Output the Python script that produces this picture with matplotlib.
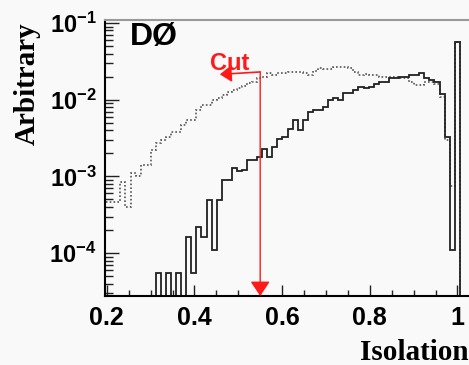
import matplotlib
matplotlib.use("Agg")
import matplotlib.pyplot as plt
import numpy as np

# histogram binning (90 bins on 0-1.04), only the filled range is kept
bin_w = 1.04 / 90
first_bkg_bin = 17
first_sig_bin = 27

# dotted histogram (background-like), bins 17..86
bkg = [4.7e-4, 4.7e-4, 4.7e-4, 8.5e-4, 4.0e-4, 1.1e-3, 1.0e-3, 1.4e-3, 1.4e-3, 2.2e-3,
       2.7e-3, 3.0e-3, 3.3e-3, 3.8e-3, 3.8e-3, 4.7e-3, 5.5e-3, 5.5e-3, 7.3e-3, 8.5e-3,
       8.5e-3, 1.0e-2, 1.04e-2, 1.15e-2, 1.27e-2, 1.34e-2, 1.4e-2, 1.5e-2, 1.64e-2, 1.7e-2,
       1.9e-2, 2.0e-2, 2.2e-2, 2.1e-2, 2.2e-2, 2.25e-2, 2.3e-2, 2.3e-2, 2.3e-2, 2.2e-2,
       2.1e-2, 2.4e-2, 2.57e-2, 2.5e-2, 2.5e-2, 2.7e-2, 2.7e-2, 2.7e-2, 2.6e-2, 2.3e-2,
       2.1e-2, 2.15e-2, 2.1e-2, 2.1e-2, 2.0e-2, 2.0e-2, 2.0e-2, 2.0e-2, 1.9e-2, 1.9e-2,
       1.72e-2, 1.55e-2, 1.55e-2, 1.72e-2, 1.72e-2, 1.6e-2, 1.1e-2, 3.0e-3, 7.4e-4, 5.7e-2]

# solid histogram (signal-like), bins 27..86
sig = [5.5e-5, 0, 5.5e-5, 0, 5.5e-5, 0, 1.64e-4, 5.5e-5, 2.2e-4, 1.64e-4,
       4.9e-4, 1.1e-4, 4.9e-4, 9e-4, 9e-4, 1.29e-3, 1.16e-3, 1.21e-3, 1.64e-3, 1.64e-3,
       1.8e-3, 2.3e-3, 1.8e-3, 2.45e-3, 3.1e-3, 3.3e-3, 4.2e-3, 5.4e-3, 4.0e-3, 5.4e-3,
       7.0e-3, 7.3e-3, 7.3e-3, 8.1e-3, 1.0e-2, 1.04e-2, 1.0e-2, 1.21e-2, 1.21e-2, 1.34e-2,
       1.48e-2, 1.4e-2, 1.48e-2, 1.6e-2, 1.72e-2, 1.72e-2, 1.9e-2, 1.9e-2, 2.0e-2, 2.0e-2,
       2.1e-2, 2.1e-2, 2.2e-2, 1.9e-2, 1.8e-2, 1.72e-2, 1.2e-2, 3.3e-3, 1.1e-4, 5.7e-2]

cut_value = 0.55
cut_label = "Cut"
xticks = [0.2, 0.4, 0.6, 0.8, 1.0]
xticklabels = ["0.2", "0.4", "0.6", "0.8", "1"]
yticks = [1e-4, 1e-3, 1e-2, 1e-1]
yticklabels = [r"$10^{-4}$", r"$10^{-3}$", r"$10^{-2}$", r"$10^{-1}$"]

plt.rcParams["mathtext.fontset"] = "custom"
plt.rcParams["mathtext.rm"] = "Liberation Sans:bold"
plt.rcParams["mathtext.it"] = "Liberation Sans:bold"
plt.rcParams["mathtext.bf"] = "Liberation Sans:bold"

bg = "#f9f9f9"
fig = plt.figure(figsize=(4.69, 3.65), dpi=100, facecolor=bg)
ax = fig.add_axes([105 / 469, 69 / 365, 370 / 469, 276 / 365], facecolor=bg)

bkg_edges = bin_w * np.arange(first_bkg_bin, first_bkg_bin + len(bkg) + 1)
sig_edges = bin_w * np.arange(first_sig_bin, first_sig_bin + len(sig) + 1)
bkg_v = np.where(np.array(bkg) > 0, bkg, 1e-9)
sig_v = np.where(np.array(sig) > 0, sig, 1e-9)

ax.stairs(bkg_v, bkg_edges, baseline=1e-9, color="#555555", lw=1.2, ls=(0, (1, 1.3)))
ax.stairs(sig_v, sig_edges, baseline=1e-9, color="#222222", lw=1.3)

ax.set_yscale("log")
ax.set_xlim(0.196, 1.04)
ax.set_ylim(2.76e-5, 0.1094)

# cut arrow
y_top = 0.023
ax.annotate("", xy=(cut_value, 2.76e-5), xytext=(cut_value, y_top),
            arrowprops=dict(arrowstyle="-|>,head_length=0.45,head_width=0.3",
                            color="#ff1a1a", lw=1.0, shrinkA=0, shrinkB=0,
                            mutation_scale=20))
ax.annotate("", xy=(0.458, y_top * 0.93), xytext=(cut_value, y_top),
            arrowprops=dict(arrowstyle="-|>,head_length=0.35,head_width=0.25",
                            color="#ff1a1a", lw=1.2, shrinkA=0, shrinkB=0,
                            mutation_scale=20))
fig.text(210 / 469, 1 - 70 / 365, cut_label, color="#ff1a1a", fontsize=17,
         fontweight="bold", family="Liberation Sans", ha="left", va="baseline")

ax.set_xticks(xticks)
ax.set_xticklabels(xticklabels)
ax.set_xticks(np.arange(0.25, 1.05, 0.05), minor=True)
ax.set_yticks(yticks)
ax.set_yticklabels(yticklabels)

ax.tick_params(which="both", direction="in", top=False, right=False, width=1, color="#222222")
ax.tick_params(axis="x", which="major", length=8, pad=7, labelsize=18)
ax.tick_params(axis="x", which="minor", length=4)
ax.tick_params(axis="y", which="major", length=10, pad=6, labelsize=17)
ax.tick_params(axis="y", which="minor", length=6)
for lab in ax.get_xticklabels():
    lab.set_fontfamily("Liberation Sans")
    lab.set_fontweight("bold")

ax.spines["left"].set_linewidth(1.5)
ax.spines["bottom"].set_linewidth(1.5)
ax.spines["top"].set_color("#999999")
ax.spines["top"].set_linewidth(1.5)
ax.spines["right"].set_visible(False)

fig.text(130 / 469, 1 - 45 / 365, "DØ", fontsize=23, fontweight="bold",
         family="Liberation Sans", ha="left", va="baseline")
fig.text(27 / 469, 1 - 84 / 365, "Arbitrary", fontsize=21, fontweight="bold",
         family="Liberation Serif", rotation=90, ha="center", va="center")
fig.text(1.0, 1 - 360 / 365, "Isolation", fontsize=21, fontweight="bold",
         family="Liberation Serif", ha="right", va="baseline")

fig.savefig("out.png", dpi=100, facecolor=bg)
